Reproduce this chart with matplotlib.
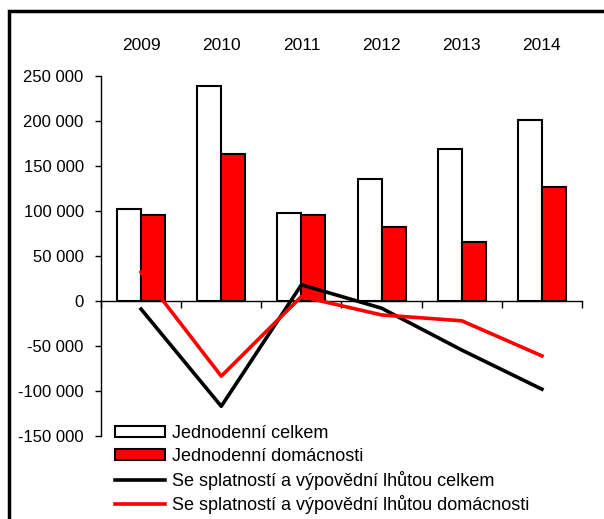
import matplotlib
matplotlib.use("Agg")
import matplotlib.pyplot as plt
import numpy as np
from matplotlib.patches import Rectangle
from matplotlib.ticker import FuncFormatter, FixedLocator

plt.rcParams["font.family"] = ["Liberation Sans", "DejaVu Sans"]

years = ["2009", "2010", "2011", "2012", "2013", "2014"]
jednodenni_celkem = [102000, 239000, 97500, 135500, 169000, 201000]
jednodenni_domacnosti = [95500, 163000, 95500, 82500, 65500, 127000]
splatnost_celkem = [-9000, -117000, 18000, -8000, -54500, -98000]
splatnost_domacnosti = [32000, -83500, 5000, -15500, -22000, -61000]

labels = [
    "Jednodenní celkem",
    "Jednodenní domácnosti",
    "Se splatností a výpovědní lhůtou celkem",
    "Se splatností a výpovědní lhůtou domácnosti",
]


def fmt_thousands(v, pos):
    s = f"{abs(int(v)):,}".replace(",", " ")
    return ("-" if v < 0 else "") + s


fig = plt.figure(figsize=(6.04, 5.19), dpi=100)
ax = fig.add_axes([101 / 604, 83 / 519, 481 / 604, 360 / 519])

x = np.arange(len(years))
w = 0.3
b1 = ax.bar(x - w / 2, jednodenni_celkem, w, color="white", edgecolor="black",
            linewidth=1.5, zorder=2)
b2 = ax.bar(x + w / 2, jednodenni_domacnosti, w, color="#ff0000", edgecolor="black",
            linewidth=1.5, zorder=2)
l1, = ax.plot(x, splatnost_celkem, color="black", linewidth=2.6, zorder=3)
l2, = ax.plot(x, splatnost_domacnosti, color="#ff0000", linewidth=2.6, zorder=3)

ax.set_xlim(-0.5, len(years) - 0.5)
ax.set_ylim(-150000, 250000)
ax.yaxis.set_major_locator(FixedLocator(np.arange(-150000, 250001, 50000)))
ax.yaxis.set_major_formatter(FuncFormatter(fmt_thousands))

for side in ["top", "right"]:
    ax.spines[side].set_visible(False)
ax.spines["bottom"].set_position(("data", 0))
ax.spines["left"].set_linewidth(1.0)
ax.spines["bottom"].set_linewidth(1.0)

ax.set_xticks(x)
ax.set_xticklabels(years)
ax.set_xticks(np.arange(-0.5, len(years)), minor=True)
ax.tick_params(axis="x", which="major", bottom=False, labelbottom=False,
               top=True, labeltop=True, length=0, pad=16.5, labelsize=12.5)
ax.tick_params(axis="x", which="minor", bottom=True, length=5, width=1.0,
               direction="out")
ax.tick_params(axis="y", length=4, width=1.0, direction="out", pad=8.5,
               labelsize=12)

leg = ax.legend([b1, b2, l1, l2], labels, loc="upper left",
                bbox_to_anchor=(115 / 604, 1 - 425 / 519),
                bbox_transform=fig.transFigure, frameon=False, fontsize=13,
                handlelength=2.77, handleheight=0.55, handletextpad=0.37,
                labelspacing=0.32, borderaxespad=0, borderpad=0)

fig.patches.append(Rectangle((9 / 604, -0.1), 1.2, 1.1 - 11 / 519,
                             transform=fig.transFigure, fill=False,
                             edgecolor="black", linewidth=2.5))

fig.savefig("out.png", dpi=100)
